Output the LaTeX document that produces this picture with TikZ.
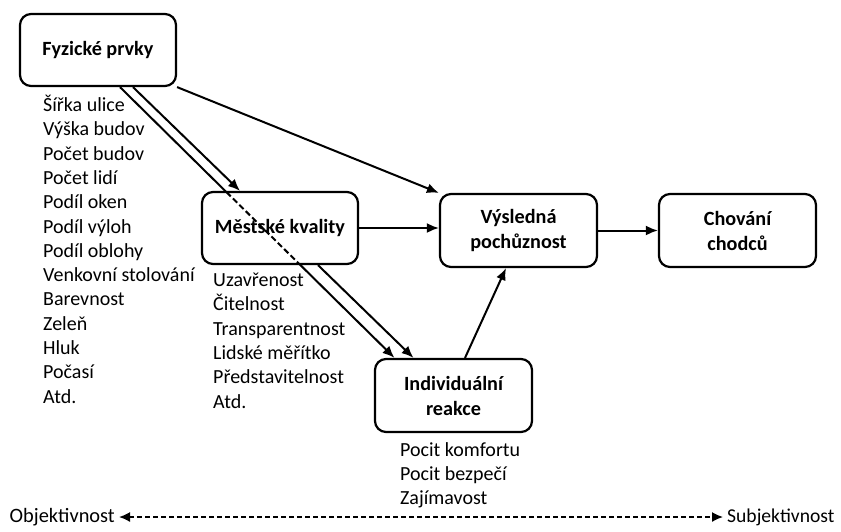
\documentclass[tikz,border=0pt]{standalone}
\usepackage{fontspec}
\setmainfont{Carlito}
\usetikzlibrary{arrows.meta,calc}
\begin{document}
\begin{tikzpicture}[x=1pt,y=-1pt,
  every node/.style={font=\fontsize{20}{24.3}\selectfont},
  box/.style={draw, line width=2.2pt, rounded corners=11pt, minimum width=156pt, minimum height=72pt, align=center, font=\fontsize{20.2}{25}\selectfont\bfseries, inner sep=2pt},
  arr/.style={line width=2pt, -{Latex[length=12pt,width=10pt]}},
  ln/.style={line width=2pt},
  item/.style={anchor=base west, inner sep=0pt},
  axlabel/.style={font=\fontsize{20.4}{24}\selectfont, inner sep=4pt}
]
\useasboundingbox (0,0) rectangle (841,531);

\node[box] (fp) at (98,50) {Fyzické prvky};
\node[box] (mk) at (280,228) {Městské kvality};
\node[box, minimum width=157pt, minimum height=73pt] (vp) at (518.5,230.5) {Výsledná\\pochůznost};
\node[box, minimum width=157pt, minimum height=73pt] (ch) at (737.5,230.5) {Chování\\chodců};
\node[box, minimum width=157pt, minimum height=73pt] (ir) at (453.5,395.5) {Individuální\\reakce};

% lists
\foreach \t [count=\i from 0] in {Šířka ulice, Výška budov, Počet budov, Počet lidí, Podíl oken, Podíl výloh, Podíl oblohy, Venkovní stolování, Barevnost, Zeleň, Hluk, Počasí, Atd.}
  \node[item] (L\i) at (43,111.5+24.3*\i) {\t};
\foreach \t [count=\i from 0] in {Uzavřenost, Čitelnost, Transparentnost, Lidské měřítko, Představitelnost, Atd.}
  \node[item] (M\i) at (213,286.5+24.3*\i) {\t};
\foreach \t [count=\i from 0] in {Pocit komfortu, Pocit bezpečí, Zajímavost}
  \node[item] (R\i) at (400,456+24.3*\i) {\t};

% connectors
\draw[arr] (fp.south east) -- (vp.north west);
\draw[arr] ($(fp.south)+(35,0)$) -- ($(mk.north)+(-40,0)$);
\coordinate (a1) at ($(fp.south)+(22,0)$);
\coordinate (a2) at ($(ir.north)+(-59,0)$);
\draw[ln] (a1) -- ($(a1)!0.388!(a2)$);
\draw[ln, dash pattern=on 6pt off 3pt] ($(a1)!0.388!(a2)$) -- ($(a1)!0.652!(a2)$);
\draw[arr] ($(a1)!0.652!(a2)$) -- (a2);
\draw[arr] ($(mk.south)+(38,0)$) -- ($(ir.north)+(-40,0)$);
\draw[arr] (mk.east) -- (mk.east -| vp.west);
\draw[arr] ($(ir.north)+(11.5,0)$) -- ($(vp.south)+(-12.5,0)$);
\draw[arr] (vp.east) -- (ch.west);

% axis
\node[axlabel, anchor=east] (obj) at (119,517) {Objektivnost};
\node[axlabel, anchor=west, font=\fontsize{19.6}{24}\selectfont] (subj) at (723,517) {Subjektivnost};
\draw[line width=1.6pt, dash pattern=on 5pt off 3pt, {Latex[length=11pt,width=10pt]}-{Latex[length=11pt,width=10pt]}] (obj.east) -- (subj.west);
\end{tikzpicture}
\end{document}
